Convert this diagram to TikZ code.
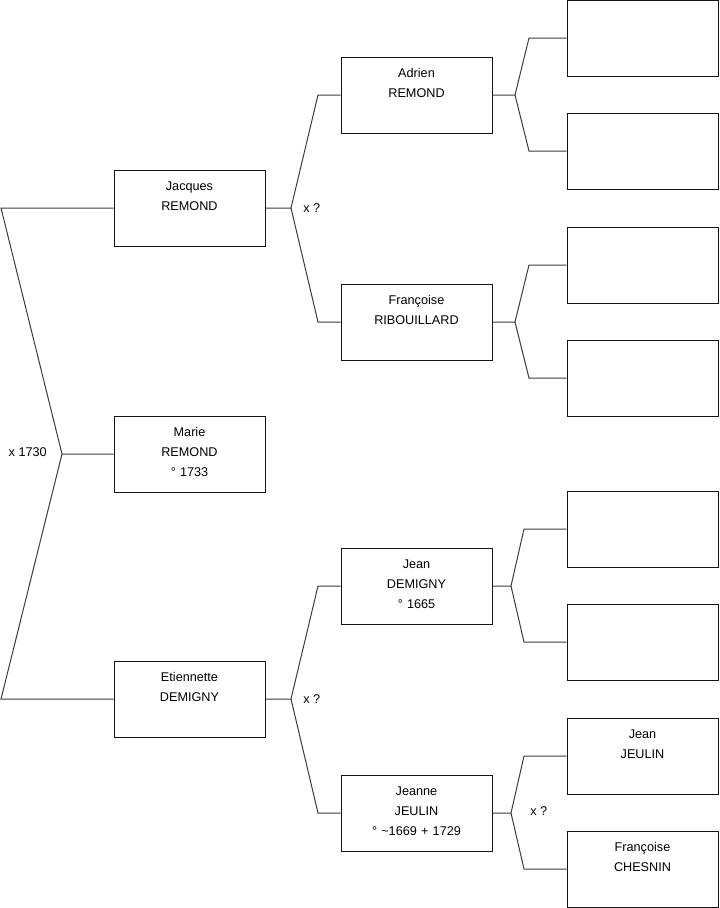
\documentclass[tikz,border=0pt]{standalone}
\usepackage{fontspec}
\setmainfont{Liberation Sans}
\usepackage{tikz}
\usetikzlibrary{positioning}
\definecolor{boxline}{RGB}{20,20,20}
\definecolor{linkline}{RGB}{60,60,60}

\begin{document}
\begin{tikzpicture}[x=0.75pt, y=-0.75pt, font=\fontsize{9.5}{15}\selectfont]
  \tikzstyle{pers}=[rectangle,draw=boxline,line width=0.75pt,minimum width=113.25pt,minimum height=57pt,inner sep=0pt,text width=113.25pt,align=center,text height=15.5pt,text depth=41.5pt,fill=white]
  \tikzstyle{link}=[draw=linkline,line width=0.75pt,line join=miter]
  \tikzstyle{wed}=[inner sep=0pt]
  \useasboundingbox (0,0) rectangle (719,908);

  % generation 1
  \node[pers] (marie) at (189.5,454) {Marie\\REMOND\\° 1733};
  \node[pers] (jacq) at (189.5,208) {Jacques\\REMOND};
  \node[pers] (etie) at (189.5,699) {Etiennette\\DEMIGNY};

  % generation 2
  \node[pers] (adri) at (416.5,95) {Adrien\\REMOND};
  \node[pers] (fribo) at (416.5,322) {Françoise\\RIBOUILLARD};
  \node[pers] (jeand) at (416.5,586) {Jean\\DEMIGNY\\° 1665};
  \node[pers] (jeanne) at (416.5,813) {Jeanne\\JEULIN\\° \textasciitilde1669 + 1729};

  % generation 3
  \node[pers] (e1) at (642.5,38) {};
  \node[pers] (e2) at (642.5,151) {};
  \node[pers] (e3) at (642.5,265) {};
  \node[pers] (e4) at (642.5,378) {};
  \node[pers] (e5) at (642.5,529) {};
  \node[pers] (e6) at (642.5,642) {};
  \node[pers] (jjeul) at (642.5,756) {Jean\\JEULIN};
  \node[pers] (fches) at (642.5,869) {Françoise\\CHESNIN};

  % forks
  \coordinate (f0) at (62,454);
  \coordinate (f0a) at (1,208);
  \coordinate (f0b) at (1,699);
  \coordinate (f1) at (291,208);
  \coordinate (f1a) at (318,95);
  \coordinate (f1b) at (318,322);
  \coordinate (f2) at (291,699);
  \coordinate (f2a) at (318,586);
  \coordinate (f2b) at (318,813);
  \coordinate (f3) at (515,95);
  \coordinate (f3a) at (529,38);
  \coordinate (f3b) at (529,151);
  \coordinate (f4) at (515,322);
  \coordinate (f4a) at (529,265);
  \coordinate (f4b) at (529,378);
  \coordinate (f5) at (511,586);
  \coordinate (f5a) at (524,529);
  \coordinate (f5b) at (524,642);
  \coordinate (f6) at (511,813);
  \coordinate (f6a) at (524,756);
  \coordinate (f6b) at (524,869);

  \draw[link] (marie) -- (f0) -- (f0a) -- (jacq);
  \draw[link] (f0) -- (f0b) -- (etie);
  \draw[link] (jacq) -- (f1) -- (f1a) -- (adri);
  \draw[link] (f1) -- (f1b) -- (fribo);
  \draw[link] (etie) -- (f2) -- (f2a) -- (jeand);
  \draw[link] (f2) -- (f2b) -- (jeanne);
  \draw[link] (adri) -- (f3) -- (f3a) -- (e1);
  \draw[link] (f3) -- (f3b) -- (e2);
  \draw[link] (fribo) -- (f4) -- (f4a) -- (e3);
  \draw[link] (f4) -- (f4b) -- (e4);
  \draw[link] (jeand) -- (f5) -- (f5a) -- (e5);
  \draw[link] (f5) -- (f5b) -- (e6);
  \draw[link] (jeanne) -- (f6) -- (f6a) -- (jjeul);
  \draw[link] (f6) -- (f6b) -- (fches);

  % marriages
  \node[wed,anchor=east] (wed0) at (47,452) {x 1730};
  \node[wed,anchor=west] (wed1) at (303,208) {x ?};
  \node[wed,anchor=west] (wed2) at (303,699) {x ?};
  \node[wed,anchor=west] (wed3) at (530,811) {x ?};
\end{tikzpicture}
\end{document}
